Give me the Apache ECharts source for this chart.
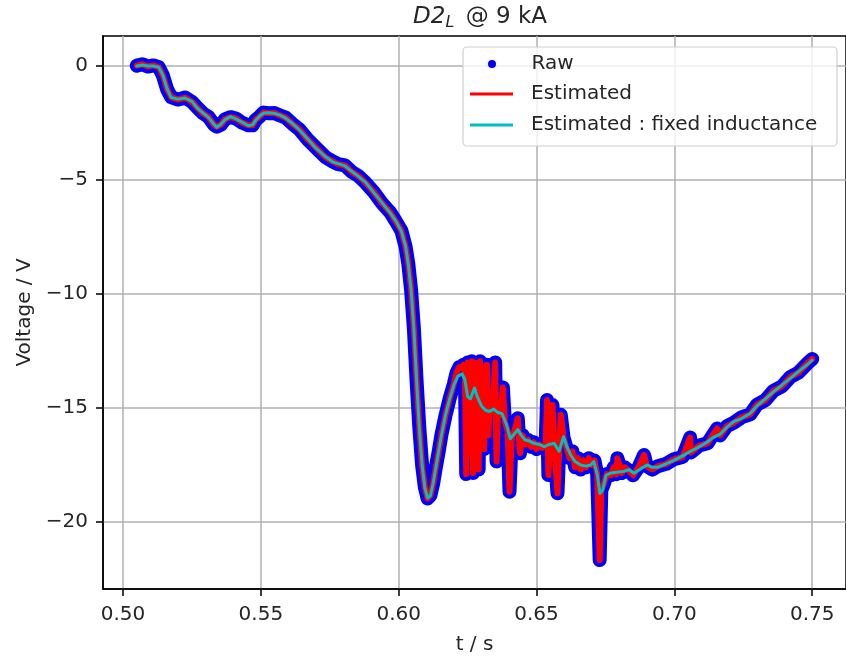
<!DOCTYPE html>
<html>
<head>
<meta charset="utf-8">
<script src="https://cdn.jsdelivr.net/npm/echarts@6/dist/echarts.min.js"></script>
<style>
  html, body { margin: 0; padding: 0; background: #fff; }
  #main { width: 846px; height: 663px; }
</style>
</head>
<body>
<div id="main"></div>
<script>
// raw / estimated signal (raw drawn as wide blue band under the estimate)
var tEst = [
  0.505, 0.507, 0.509, 0.511, 0.513, 0.5145, 0.516, 0.5175, 0.520, 0.5225,
  0.525, 0.527, 0.529, 0.531, 0.533, 0.534, 0.5355, 0.537, 0.539, 0.541,
  0.543, 0.5455, 0.547, 0.548, 0.5495, 0.551, 0.553, 0.555, 0.557, 0.559,
  0.5615, 0.564, 0.567, 0.570, 0.5735, 0.576, 0.578, 0.5805, 0.583, 0.5855,
  0.588, 0.591, 0.594, 0.597, 0.599, 0.601, 0.6025, 0.6035, 0.6045, 0.6055,
  0.6065, 0.6075, 0.6085, 0.6095, 0.6105, 0.6115, 0.6125, 0.6135, 0.6145, 0.6155,
  0.617, 0.6185, 0.620, 0.621, 0.622, 0.623, 0.6235, 0.624, 0.6245, 0.625,
  0.6255, 0.626, 0.6265, 0.627, 0.6275, 0.628, 0.6285, 0.629, 0.6295, 0.630,
  0.6305, 0.631, 0.6315, 0.632, 0.6325, 0.633, 0.634, 0.635, 0.6355, 0.636,
  0.637, 0.6378, 0.6385, 0.6395, 0.6402, 0.641, 0.642, 0.6432, 0.644, 0.645,
  0.646, 0.647, 0.648, 0.649, 0.650, 0.651, 0.652, 0.6533, 0.6538, 0.6543,
  0.655, 0.6558, 0.6565, 0.6576, 0.6582, 0.6588, 0.6598, 0.661, 0.662, 0.663,
  0.664, 0.665, 0.666, 0.667, 0.668, 0.669, 0.670, 0.671, 0.672, 0.6729,
  0.6735, 0.6745, 0.6755, 0.677, 0.678, 0.679, 0.6793, 0.681, 0.682, 0.6835,
  0.685, 0.687, 0.689, 0.690, 0.692, 0.694, 0.697, 0.6998, 0.703, 0.7057,
  0.706, 0.709, 0.712, 0.7155, 0.7166, 0.719, 0.7215, 0.7245, 0.7275, 0.730,
  0.733, 0.7359, 0.739, 0.742, 0.745, 0.7486, 0.750
];
var vEst = [
  0.02, 0.08, -0.02, 0.03, -0.05, -0.42, -1.02, -1.36, -1.47, -1.38,
  -1.57, -1.83, -2.07, -2.23, -2.57, -2.66, -2.57, -2.33, -2.24, -2.30,
  -2.47, -2.60, -2.60, -2.38, -2.22, -2.04, -2.07, -2.06, -2.17, -2.26,
  -2.54, -2.78, -3.22, -3.58, -4.00, -4.18, -4.30, -4.36, -4.64, -4.83,
  -5.12, -5.53, -6.02, -6.43, -6.82, -7.23, -7.92, -8.68, -9.82, -11.48,
  -13.82, -15.88, -17.52, -18.48, -18.97, -18.83, -18.32, -17.58, -16.92, -16.18,
  -15.32, -14.58, -13.95, -13.45, -13.2, -13.25, -13.1, -13.4, -17.9, -13.0,
  -14.2, -17.0, -12.95, -17.85, -13.0, -16.3, -13.1, -17.7, -12.95, -16.5,
  -13.2, -16.8, -14.8, -13.1, -16.2, -15.1, -15.2, -13.0, -17.35, -15.1,
  -15.3, -14.1, -15.6, -16.0, -18.67, -16.3, -16.0, -15.45, -16.98, -16.2,
  -16.6, -16.4, -16.7, -16.5, -16.8, -16.6, -16.75, -16.6, -14.65, -17.94,
  -16.5, -14.87, -16.8, -18.74, -16.9, -15.3, -16.3, -16.8, -17.2, -16.9,
  -17.6, -17.2, -17.7, -17.3, -17.6, -17.2, -17.5, -17.3, -17.9, -21.67,
  -18.6, -18.3, -17.9, -17.95, -17.6, -17.9, -17.2, -17.85, -17.6, -17.75,
  -17.95, -17.6, -17.06, -17.55, -17.7, -17.55, -17.45, -17.25, -17.15, -16.3,
  -16.95, -16.65, -16.55, -15.9, -16.2, -15.8, -15.65, -15.4, -15.28, -14.85,
  -14.65, -14.25, -14.05, -13.65, -13.45, -13.0, -12.85
];

// estimate with fixed inductance (smooth)
var tFix = [
  0.505, 0.507, 0.509, 0.511, 0.513, 0.5145, 0.516, 0.5175, 0.520, 0.5225,
  0.525, 0.527, 0.529, 0.531, 0.533, 0.534, 0.5355, 0.537, 0.539, 0.541,
  0.543, 0.5455, 0.547, 0.548, 0.5495, 0.551, 0.553, 0.555, 0.557, 0.559,
  0.5615, 0.564, 0.567, 0.570, 0.5735, 0.576, 0.578, 0.5805, 0.583, 0.5855,
  0.588, 0.591, 0.594, 0.597, 0.599, 0.601, 0.6025, 0.6035, 0.6045, 0.6055,
  0.6065, 0.6075, 0.6085, 0.6095, 0.6105, 0.6115, 0.6125, 0.6135, 0.6145, 0.6155,
  0.617, 0.6185, 0.620, 0.6215, 0.623, 0.624, 0.625, 0.626, 0.6275, 0.6285,
  0.630, 0.6315, 0.633, 0.6345, 0.636, 0.6375, 0.639, 0.6405, 0.6415, 0.6432,
  0.6445, 0.6458, 0.6475, 0.649, 0.651, 0.6528, 0.6545, 0.6564, 0.6582, 0.6598,
  0.661, 0.6624, 0.664, 0.666, 0.668, 0.6696, 0.6708, 0.672, 0.673, 0.674,
  0.6752, 0.677, 0.679, 0.6817, 0.6835, 0.6853, 0.688, 0.6901, 0.692, 0.6938,
  0.697, 0.6998, 0.703, 0.7058, 0.709, 0.7118, 0.714, 0.7166, 0.719, 0.7215,
  0.7245, 0.7275, 0.730, 0.733, 0.7359, 0.739, 0.742, 0.745, 0.7486, 0.750
];
var vFix = [
  0.0, 0.05, 0.0, 0.0, -0.05, -0.4, -1.0, -1.38, -1.45, -1.40,
  -1.55, -1.85, -2.05, -2.25, -2.55, -2.68, -2.55, -2.35, -2.22, -2.32,
  -2.45, -2.62, -2.58, -2.40, -2.2, -2.06, -2.05, -2.08, -2.15, -2.28,
  -2.52, -2.8, -3.2, -3.6, -3.98, -4.2, -4.28, -4.38, -4.62, -4.85,
  -5.1, -5.55, -6.0, -6.45, -6.8, -7.25, -7.9, -8.7, -9.8, -11.5,
  -13.8, -15.9, -17.5, -18.5, -18.95, -18.85, -18.3, -17.6, -16.9, -16.2,
  -15.3, -14.6, -14.0, -13.6, -13.5, -13.75, -14.5, -14.6, -14.12, -14.5,
  -14.9, -15.1, -15.15, -15.05, -15.2, -15.25, -15.7, -16.35, -16.2, -15.95,
  -16.2, -16.4, -16.45, -16.55, -16.6, -16.7, -16.6, -16.55, -16.9, -16.26,
  -16.7, -17.06, -17.35, -17.5, -17.55, -17.5, -17.35, -17.9, -18.75, -18.6,
  -17.95, -17.85, -17.82, -17.78, -17.7, -17.86, -17.65, -17.5, -17.6, -17.6,
  -17.45, -17.3, -17.1, -16.9, -16.7, -16.5, -16.3, -16.15, -15.85, -15.6,
  -15.45, -15.24, -14.9, -14.6, -14.29, -14.0, -13.7, -13.4, -13.05, -12.9
];

var xTicks = [0.50, 0.55, 0.60, 0.65, 0.70, 0.75];
var yTicks = [-20, -15, -10, -5, 0];

function pairs(ts, vs) {
  return ts.map(function (t, i) { return [t, vs[i]]; });
}

var font = 'DejaVu Sans';
var txt = '#262626';

var option = {
  animation: false,
  backgroundColor: '#fff',
  title: {
    text: '{it|D2}{sub|L} @ 9 kA',
    left: 475,
    top: -2,
    textAlign: 'center',
    textStyle: {
      fontFamily: font,
      fontSize: 23,
      fontWeight: 'normal',
      color: txt,
      rich: {
        it: { fontFamily: font, fontSize: 23, fontStyle: 'italic', color: txt },
        sub: { fontFamily: font, fontSize: 16, fontStyle: 'italic', color: txt, padding: [12, 4, 0, 0] }
      }
    }
  },
  grid: {
    show: true,
    left: 103,
    top: 36,
    right: -3,
    bottom: 74,
    borderColor: '#000',
    borderWidth: 1.5,
    backgroundColor: 'transparent'
  },
  legend: [{
    data: [{ name: 'Raw', icon: 'circle' }],
    left: 488, top: 54, padding: 0, z: 10,
    itemWidth: 43, itemHeight: 8,
    selectedMode: false,
    textStyle: { fontFamily: font, fontSize: 20, color: txt, padding: [0, 0, 0, 13] }
  }, {
    data: [{ name: 'Estimated', icon: 'rect' }],
    left: 470, top: 84, padding: 0, z: 10,
    itemWidth: 43, itemHeight: 3,
    selectedMode: false,
    textStyle: { fontFamily: font, fontSize: 20, color: txt, padding: [0, 0, 0, 13] }
  }, {
    data: [{ name: 'Estimated : fixed inductance', icon: 'rect' }],
    left: 470, top: 115, padding: 0, z: 10,
    itemWidth: 43, itemHeight: 3,
    selectedMode: false,
    textStyle: { fontFamily: font, fontSize: 20, color: txt, padding: [0, 0, 0, 13] }
  }],
  graphic: [{
    type: 'rect',
    z: 5,
    shape: { x: 463, y: 47, width: 374, height: 99, r: 4 },
    style: { fill: 'rgba(255,255,255,0.8)', stroke: '#d0d0d0', lineWidth: 1.2 }
  }],
  xAxis: {
    type: 'value',
    min: 0.49275,
    max: 0.76225,
    splitNumber: 5,
    name: 't / s',
    nameLocation: 'middle',
    nameGap: 46,
    nameTextStyle: { fontFamily: font, fontSize: 20, color: txt },
    axisLine: { show: true, onZero: false, lineStyle: { color: '#000', width: 1.5 } },
    axisTick: { show: true, length: 7, customValues: xTicks, lineStyle: { color: '#000', width: 1.5 } },
    axisLabel: {
      customValues: xTicks,
      margin: 16,
      fontFamily: font, fontSize: 20, color: txt,
      formatter: function (v) { return v.toFixed(2); }
    },
    splitLine: { show: true, lineStyle: { color: '#b0b0b0', width: 1.5 } }
  },
  yAxis: {
    type: 'value',
    min: -22.94,
    max: 1.32,
    splitNumber: 5,
    name: 'Voltage / V',
    nameLocation: 'middle',
    nameGap: 64,
    nameRotate: 90,
    nameTextStyle: { fontFamily: font, fontSize: 20, color: txt },
    axisLine: { show: true, onZero: false, lineStyle: { color: '#000', width: 1.5 } },
    axisTick: { show: true, length: 7, customValues: yTicks, lineStyle: { color: '#000', width: 1.5 } },
    axisLabel: {
      customValues: yTicks,
      margin: 15,
      fontFamily: font, fontSize: 20, color: txt,
      formatter: function (v) { return v < 0 ? '\u2212' + Math.abs(v) : String(v); }
    },
    splitLine: { show: true, lineStyle: { color: '#b0b0b0', width: 1.5 } }
  },
  series: [{
    name: 'Raw',
    type: 'line',
    color: '#0000ff',
    showSymbol: false,
    z: 2,
    lineStyle: { width: 14, join: 'round', cap: 'round' },
    data: pairs(tEst, vEst)
  }, {
    name: 'Estimated',
    type: 'line',
    color: '#ff0000',
    showSymbol: false,
    z: 3,
    lineStyle: { width: 6, join: 'round', cap: 'round' },
    data: pairs(tEst, vEst)
  }, {
    name: 'Estimated : fixed inductance',
    type: 'line',
    color: '#00bfbf',
    showSymbol: false,
    z: 4,
    lineStyle: { width: 3, join: 'round', cap: 'round' },
    data: pairs(tFix, vFix)
  }]
};

var myChart = echarts.init(document.getElementById('main'));
myChart.setOption(option);
</script>
</body>
</html>
